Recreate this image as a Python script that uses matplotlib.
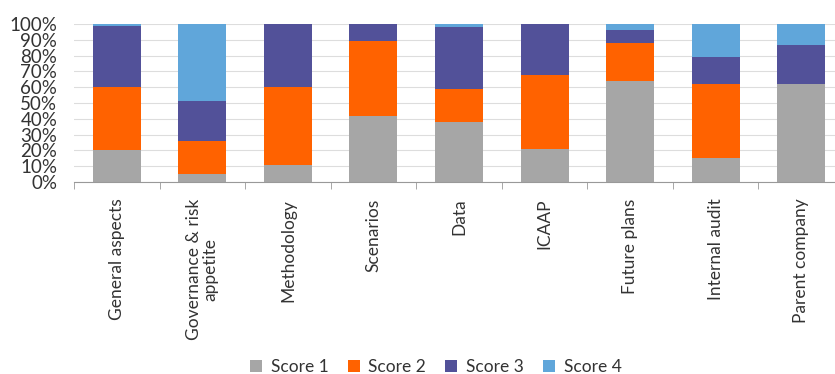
import numpy as np
import matplotlib
matplotlib.use("Agg")
import matplotlib.pyplot as plt
from matplotlib.ticker import PercentFormatter, FixedLocator

categories = ["General aspects", "Governance & risk\nappetite", "Methodology",
              "Scenarios", "Data", "ICAAP", "Future plans", "Internal audit",
              "Parent company"]
score1 = [20, 5, 11, 42, 38, 21, 64, 15, 62]
score2 = [40, 21, 49, 47, 21, 47, 24, 47, 0]
score3 = [39, 25, 40, 11, 39, 32, 8, 17, 25]
score4 = [1, 49, 0, 0, 2, 0, 4, 21, 13]
series_names = ["Score 1", "Score 2", "Score 3", "Score 4"]
colors = ["#A6A6A6", "#FF6200", "#525199", "#60A6DA"]

plt.rcParams["font.family"] = ["Lato", "DejaVu Sans"]

fig = plt.figure(figsize=(8.35, 3.74), dpi=100)
ax = fig.add_axes([74 / 835, 1 - 182 / 374, 770 / 835, 158 / 374])

x = np.arange(len(categories))
bottom = np.zeros(len(categories))
for vals, name, col in zip([score1, score2, score3, score4], series_names, colors):
    ax.bar(x, vals, bottom=bottom, width=0.56, color=col, label=name, zorder=3)
    bottom += np.array(vals)

ax.set_xlim(-0.5, len(categories) - 0.5)
ax.set_ylim(0, 100)
ax.set_yticks(np.arange(0, 101, 10))
ax.yaxis.set_major_formatter(PercentFormatter(decimals=0))
ax.grid(axis="y", color="#DDDDDD", linewidth=0.8, zorder=0)

ax.set_xticks(x)
ax.set_xticklabels(categories, rotation=90, fontsize=12.5, color="#333333",
                   va="top", ha="center", linespacing=1.0)
ax.tick_params(axis="x", which="major", length=0, pad=12)
ax.xaxis.set_minor_locator(FixedLocator(np.arange(-0.5, len(categories), 1)))
ax.tick_params(axis="x", which="minor", length=5, color="#999999", direction="out")
ax.tick_params(axis="y", length=0, labelsize=13.5, pad=12, labelcolor="#333333")

for s in ["top", "right", "left"]:
    ax.spines[s].set_visible(False)
ax.spines["bottom"].set_color("#999999")
ax.spines["bottom"].set_zorder(4)

fig.legend(loc="center", bbox_to_anchor=(0.522, 0.018), ncol=4, frameon=False,
           fontsize=12.5, handlelength=0.7, handleheight=0.7, handletextpad=0.5,
           columnspacing=1.1, labelcolor="#333333")

fig.savefig("out.png", dpi=100)
